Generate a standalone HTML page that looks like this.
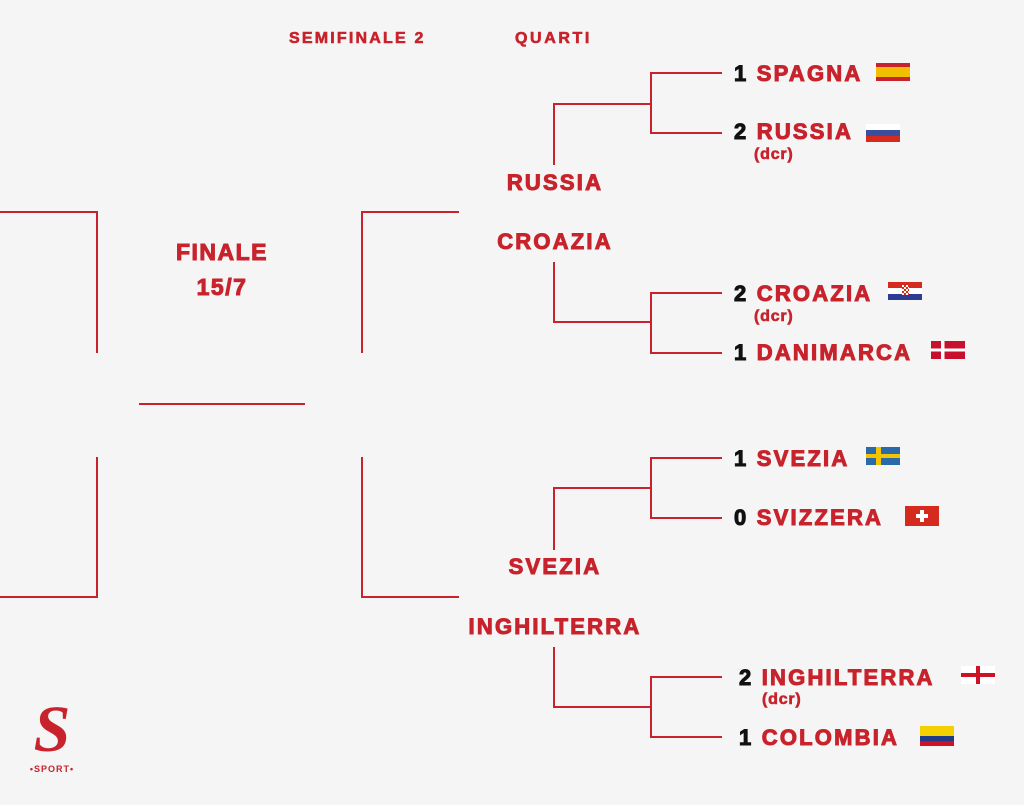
<!DOCTYPE html>
<html><head><meta charset="utf-8"><style>
html,body{margin:0;padding:0}
body{width:1024px;height:805px;background:#f4f5f4;position:relative;overflow:hidden;font-family:"Liberation Sans",Arial,sans-serif;font-weight:bold}
.l{position:absolute;background:#c8232c}
.h{height:2px}.v{width:2px}
.t{position:absolute;color:#c8232c;font-size:22px;letter-spacing:2.2px;-webkit-text-stroke:1px #c8232c;line-height:1;white-space:nowrap}
.n{color:#111;-webkit-text-stroke:1px #111}
.s{position:absolute;color:#c8232c;font-size:16px;-webkit-text-stroke:0.6px #c8232c;line-height:1;letter-spacing:0.8px}
.c{text-align:center}
.f{position:absolute;height:18px;width:34px}
</style></head><body>
<div class="l h" style="left:0;top:211px;width:98px"></div>
<div class="l v" style="left:96px;top:211px;height:142px"></div>
<div class="l v" style="left:96px;top:457px;height:141px"></div>
<div class="l h" style="left:0;top:596px;width:98px"></div>
<div class="l h" style="left:139px;top:403px;width:166px"></div>
<div class="l v" style="left:361px;top:211px;height:142px"></div>
<div class="l h" style="left:361px;top:211px;width:98px"></div>
<div class="l v" style="left:361px;top:457px;height:141px"></div>
<div class="l h" style="left:361px;top:596px;width:98px"></div>
<div class="l v" style="left:553px;top:103px;height:62px"></div>
<div class="l h" style="left:553px;top:103px;width:99px"></div>
<div class="l v" style="left:650px;top:72px;height:62px"></div>
<div class="l h" style="left:650px;top:72px;width:72px"></div>
<div class="l h" style="left:650px;top:132px;width:72px"></div>
<div class="l v" style="left:553px;top:262px;height:61px"></div>
<div class="l h" style="left:553px;top:321px;width:99px"></div>
<div class="l v" style="left:650px;top:292px;height:62px"></div>
<div class="l h" style="left:650px;top:292px;width:72px"></div>
<div class="l h" style="left:650px;top:352px;width:72px"></div>
<div class="l v" style="left:553px;top:487px;height:63px"></div>
<div class="l h" style="left:553px;top:487px;width:99px"></div>
<div class="l v" style="left:650px;top:457px;height:62px"></div>
<div class="l h" style="left:650px;top:457px;width:72px"></div>
<div class="l h" style="left:650px;top:517px;width:72px"></div>
<div class="l v" style="left:553px;top:647px;height:61px"></div>
<div class="l h" style="left:553px;top:706px;width:99px"></div>
<div class="l v" style="left:650px;top:676px;height:62px"></div>
<div class="l h" style="left:650px;top:676px;width:72px"></div>
<div class="l h" style="left:650px;top:736px;width:72px"></div>

<div class="s" style="left:289px;top:31px;letter-spacing:2.2px">SEMIFINALE 2</div>
<div class="s" style="left:515px;top:31px;letter-spacing:2.6px">QUARTI</div>

<div class="t c" style="left:140px;top:241px;width:164px;font-size:23px;letter-spacing:1.5px">FINALE</div>
<div class="t c" style="left:140px;top:276px;width:164px;font-size:23px;letter-spacing:1.5px">15/7</div>

<div class="t c" style="left:455px;top:172px;width:200px">RUSSIA</div>
<div class="t c" style="left:455px;top:231px;width:200px">CROAZIA</div>
<div class="t c" style="left:455px;top:556px;width:200px">SVEZIA</div>
<div class="t c" style="left:455px;top:616px;width:200px">INGHILTERRA</div>

<div class="t" style="left:734px;top:63px"><span class="n">1</span> SPAGNA</div>
<div class="f" style="left:876px;top:63px;background:linear-gradient(#c8232c 0 22%,#f1bf00 22% 78%,#c8232c 78%)"></div>
<div class="t" style="left:734px;top:121px"><span class="n">2</span> RUSSIA</div>
<div class="f" style="left:866px;top:124px;background:linear-gradient(#fff 0 33%,#3a4ea0 33% 66%,#d52b1e 66%)"></div>
<div class="s" style="left:754px;top:147px">(dcr)</div>

<div class="t" style="left:734px;top:283px"><span class="n">2</span> CROAZIA</div>
<div class="f" style="left:888px;top:282px;background:linear-gradient(#d52b1e 0 33%,#fff 33% 66%,#2d3d94 66%)"><div style="position:absolute;left:14px;top:3px;width:7px;height:10px;background:repeating-conic-gradient(#d52b1e 0 25%,#fff 0 50%) 0 0/4px 4px"></div></div>
<div class="s" style="left:754px;top:309px">(dcr)</div>
<div class="t" style="left:734px;top:342px"><span class="n">1</span> DANIMARCA</div>
<div class="f" style="left:931px;top:341px;background:linear-gradient(90deg,transparent 0 30%,#fff 30% 40%,transparent 40%),linear-gradient(transparent 0 42%,#fff 42% 58%,transparent 58%),#c8102e"></div>

<div class="t" style="left:734px;top:448px"><span class="n">1</span> SVEZIA</div>
<div class="f" style="left:866px;top:447px;background:linear-gradient(90deg,transparent 0 30%,#f5c400 30% 44%,transparent 44%),linear-gradient(transparent 0 40%,#f5c400 40% 60%,transparent 60%),#2a6aa8"></div>
<div class="t" style="left:734px;top:507px"><span class="n">0</span> SVIZZERA</div>
<div class="f" style="left:905px;top:506px;width:34px;height:20px;background:#d52b1e"><div style="position:absolute;left:15px;top:4px;width:4px;height:12px;background:#fff"></div><div style="position:absolute;left:11px;top:8px;width:12px;height:4px;background:#fff"></div></div>

<div class="t" style="left:739px;top:667px"><span class="n">2</span> INGHILTERRA</div>
<div class="f" style="left:961px;top:666px;background:linear-gradient(90deg,transparent 0 44%,#ce1124 44% 56%,transparent 56%),linear-gradient(transparent 0 40%,#ce1124 40% 60%,transparent 60%),#fff"></div>
<div class="s" style="left:762px;top:692px">(dcr)</div>
<div class="t" style="left:739px;top:727px"><span class="n">1</span> COLOMBIA</div>
<div class="f" style="left:920px;top:726px;height:20px;background:linear-gradient(#f5d000 0 50%,#1e3a8a 50% 75%,#ce1124 75%)"></div>

<div style="position:absolute;left:28px;top:700px;width:48px;height:58px;color:#c8232c;font-family:'Liberation Serif',serif;font-size:66px;line-height:60px;text-align:center;font-weight:bold;font-style:italic">S</div>
<div style="position:absolute;left:26px;top:764px;width:52px;color:#c8232c;font-size:9px;text-align:center;letter-spacing:1px">•SPORT•</div>
</body></html>
